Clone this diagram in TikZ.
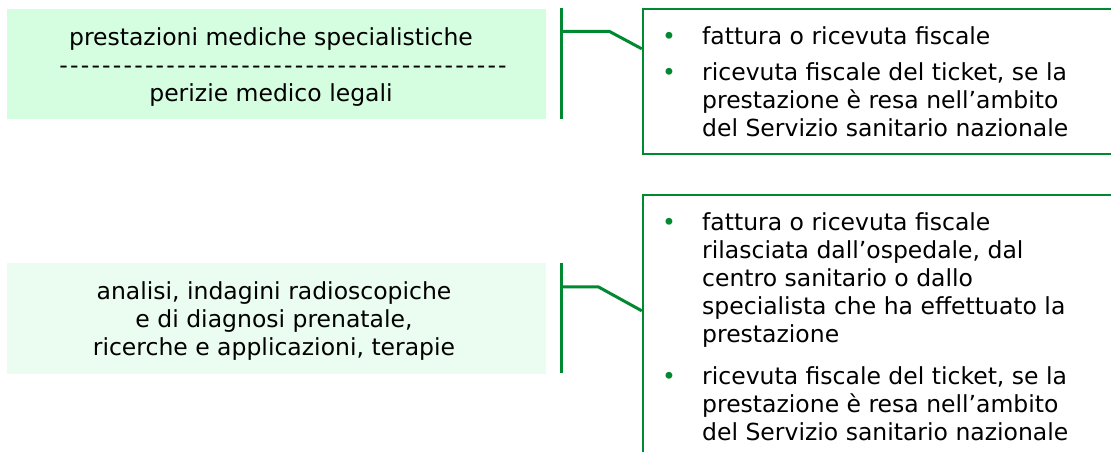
\documentclass[tikz,border=0pt]{standalone}
\usepackage{fontspec}
\setmainfont{DejaVu Sans}
\definecolor{linegreen}{RGB}{0,137,48}
\definecolor{boxmint}{RGB}{213,253,224}
\definecolor{boxpale}{RGB}{234,253,240}
\newcommand{\dashrow}{\hspace*{24pt}\foreach \k in {1,...,42}{\makebox[10.7pt]{-}}}

\begin{document}
\begin{tikzpicture}[x=1pt, y=-1pt,
    txt/.style={font=\fontsize{23.5}{28}\selectfont, inner sep=0pt},
    leftbox/.style={minimum width=539pt, inner sep=0pt},
    lefttext/.style={txt, align=center, anchor=base},
    docbox/.style={draw=linegreen, line width=2.4pt, minimum width=490pt},
    bar/.style={draw=linegreen, line width=3pt},
    bul/.style={txt, text=linegreen, anchor=base},
    item/.style={txt, align=left, anchor=base west}]
    \clip (0,0) rectangle (1111,451);

    \node[leftbox, fill=boxmint, minimum height=110pt] (spec) at (276.5,63.5) {};
    \node[lefttext] (spectext) at (271,101)
      {prestazioni mediche specialistiche\\\dashrow\\perizie medico legali};
    \node[leftbox, fill=boxpale, minimum height=111pt] (anal) at (276.5,318.5) {};
    \node[lefttext] (analtext) at (274,355)
      {analisi, indagini radioscopiche\\e di diagnosi prenatale,\\ricerche e applicazioni, terapie};

    \node[docbox, minimum height=145pt] (doctop) at (888,81.5) {};
    \node[docbox, minimum height=275pt] (docbot) at (888,332.5) {};

    \draw[bar] ([xshift=15pt]spec.north east) -- ([xshift=15pt]spec.south east);
    \draw[bar] ([xshift=15pt,yshift=-23pt]spec.north east) -- ++(48,0)
      -- ([yshift=-41pt]doctop.north west);
    \draw[bar] ([xshift=15pt]anal.north east) -- ([xshift=15pt,yshift=1pt]anal.south east);
    \draw[bar] ([xshift=15pt,yshift=-24pt]anal.north east) -- ++(37,0)
      -- ([yshift=-117pt]docbot.north west);

    \node[bul] (b1) at (669,44) {•};
    \node[item] (t1) at (702,44) {fattura o ricevuta fiscale};
    \node[bul] (b2) at (669,80) {•};
    \node[item] (t2) at (702,136)
      {ricevuta fiscale del ticket, se la\\prestazione è resa nell’ambito\\del Servizio sanitario nazionale};

    \node[bul] (b3) at (669,230) {•};
    \node[item] (t3) at (702,342)
      {fattura o ricevuta fiscale\\rilasciata dall’ospedale, dal\\centro sanitario o dallo\\specialista che ha effettuato la\\prestazione};
    \node[bul] (b4) at (669,384) {•};
    \node[item] (t4) at (702,440)
      {ricevuta fiscale del ticket, se la\\prestazione è resa nell’ambito\\del Servizio sanitario nazionale};
\end{tikzpicture}
\end{document}
